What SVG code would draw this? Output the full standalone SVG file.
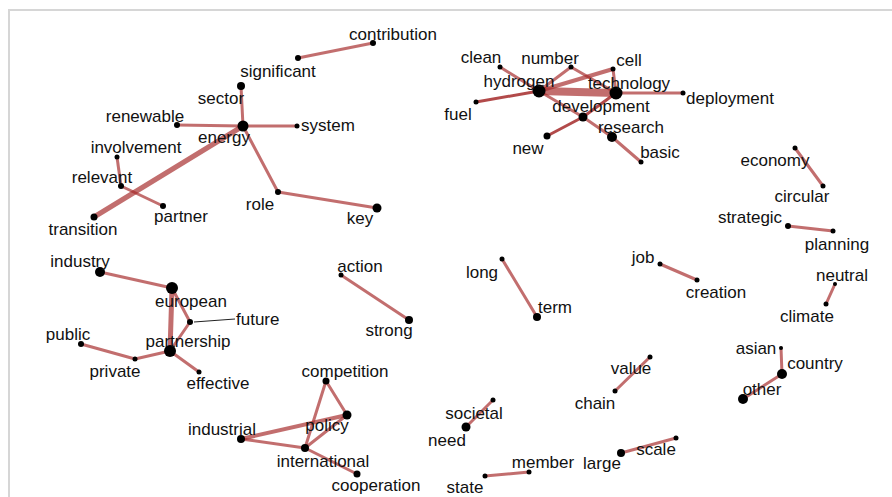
<svg xmlns="http://www.w3.org/2000/svg" width="892" height="497" viewBox="0 0 892 497">
<style>
.e{stroke:#a52a2a;stroke-opacity:0.68;stroke-linecap:round;fill:none;stroke-width:3}
.d{stroke-opacity:0.85}
.n{fill:#000}
text{font-family:"Liberation Sans",Arial,sans-serif;font-size:17px;fill:#111;text-anchor:middle}
.l{text-anchor:start}
</style>
<rect x="0" y="0" width="892" height="497" fill="#fff"/>
<rect x="9" y="10" width="895" height="500" fill="none" stroke="#d6d6d6" stroke-width="2"/>
<g id="connectors">
<line class="e" x1="373" y1="43" x2="298" y2="58"/>
<line class="e" x1="241" y1="86" x2="243" y2="126"/>
<line class="e" x1="177" y1="125" x2="243" y2="126"/>
<line class="e" x1="243" y1="126" x2="297" y2="126"/>
<line class="e" x1="243" y1="126" x2="94" y2="217" style="stroke-width:5"/>
<line class="e" x1="117" y1="157" x2="121" y2="186"/>
<line class="e" x1="121" y1="186" x2="163" y2="206"/>
<line class="e" x1="243" y1="126" x2="278" y2="192"/>
<line class="e" x1="278" y1="192" x2="377" y2="208"/>
<line class="e" x1="539" y1="91" x2="500" y2="67"/>
<line class="e" x1="539" y1="91" x2="571" y2="67"/>
<line class="e" x1="539" y1="91" x2="613" y2="69" style="stroke-width:4"/>
<line class="e d" x1="539" y1="91" x2="476" y2="102"/>
<line class="e" x1="539" y1="91" x2="616" y2="93" style="stroke-width:8"/>
<line class="e" x1="539" y1="91" x2="583" y2="117"/>
<line class="e" x1="583" y1="117" x2="612" y2="137"/>
<line class="e d" x1="583" y1="117" x2="547" y2="136"/>
<line class="e d" x1="583" y1="117" x2="616" y2="93"/>
<line class="e" x1="571" y1="67" x2="616" y2="93"/>
<line class="e" x1="613" y1="69" x2="616" y2="93"/>
<line class="e" x1="616" y1="93" x2="683" y2="93"/>
<line class="e" x1="612" y1="137" x2="641" y2="162"/>
<line class="e" x1="795" y1="148" x2="823" y2="186"/>
<line class="e" x1="788" y1="226" x2="833" y2="231"/>
<line class="e" x1="100" y1="272" x2="172" y2="288"/>
<line class="e" x1="172" y1="288" x2="170" y2="351" style="stroke-width:5"/>
<line class="e" x1="172" y1="288" x2="190" y2="322"/>
<line class="e" x1="190" y1="322" x2="170" y2="351"/>
<line class="e" x1="81" y1="344" x2="135" y2="359"/>
<line class="e" x1="135" y1="359" x2="170" y2="351"/>
<line class="e" x1="170" y1="351" x2="199" y2="372"/>
<line x1="194" y1="322" x2="235" y2="319" stroke="#222" stroke-width="1"/>
<line class="e" x1="341" y1="275" x2="409" y2="320"/>
<line class="e" x1="326" y1="381" x2="347" y2="415"/>
<line class="e" x1="326" y1="381" x2="305" y2="448"/>
<line class="e" x1="241" y1="439" x2="347" y2="415" style="stroke-width:4"/>
<line class="e" x1="241" y1="439" x2="305" y2="448"/>
<line class="e" x1="305" y1="448" x2="347" y2="415"/>
<line class="e" x1="305" y1="448" x2="357" y2="474"/>
<line class="e" x1="502" y1="259" x2="537" y2="317"/>
<line class="e" x1="660" y1="264" x2="697" y2="280"/>
<line class="e" x1="835" y1="284" x2="826" y2="304"/>
<line class="e" x1="781" y1="348" x2="782" y2="374"/>
<line class="e" x1="782" y1="374" x2="743" y2="399"/>
<line class="e" x1="650" y1="357" x2="615" y2="391"/>
<line class="e" x1="493" y1="400" x2="466" y2="427"/>
<line class="e" x1="529" y1="472" x2="485" y2="476"/>
<line class="e" x1="621" y1="453" x2="676" y2="438"/>
</g>
<g id="contribution"><circle class="n" cx="373" cy="43" r="3"/><text x="393" y="40">contribution</text></g>
<g id="significant"><circle class="n" cx="298" cy="58" r="3"/><text x="278" y="77">significant</text></g>
<g id="sector"><circle class="n" cx="241" cy="86" r="4"/><text x="221" y="104">sector</text></g>
<g id="energy"><circle class="n" cx="243" cy="126" r="5.5"/><text x="224" y="143">energy</text></g>
<g id="renewable"><circle class="n" cx="177" cy="125" r="3"/><text x="145" y="122">renewable</text></g>
<g id="system"><circle class="n" cx="297" cy="126" r="2.5"/><text x="328" y="131">system</text></g>
<g id="involvement"><circle class="n" cx="117" cy="157" r="2.5"/><text x="136" y="153">involvement</text></g>
<g id="relevant"><circle class="n" cx="121" cy="186" r="3"/><text x="102" y="183">relevant</text></g>
<g id="partner"><circle class="n" cx="163" cy="206" r="3"/><text x="181" y="222">partner</text></g>
<g id="transition"><circle class="n" cx="94" cy="217" r="3.5"/><text x="83" y="235">transition</text></g>
<g id="role"><circle class="n" cx="278" cy="192" r="3"/><text x="260" y="210">role</text></g>
<g id="key"><circle class="n" cx="377" cy="208" r="4.5"/><text x="360" y="224">key</text></g>
<g id="clean"><circle class="n" cx="500" cy="67" r="2.5"/><text x="481" y="63">clean</text></g>
<g id="number"><circle class="n" cx="571" cy="67" r="2.5"/><text x="550" y="64">number</text></g>
<g id="cell"><circle class="n" cx="613" cy="69" r="2.5"/><text x="629" y="66">cell</text></g>
<g id="hydrogen"><circle class="n" cx="539" cy="91" r="6.5"/><text x="519" y="87">hydrogen</text></g>
<g id="technology"><circle class="n" cx="616" cy="93" r="6.5"/><text x="629" y="89">technology</text></g>
<g id="deployment"><circle class="n" cx="683" cy="93" r="2.5"/><text x="730" y="104">deployment</text></g>
<g id="fuel"><circle class="n" cx="476" cy="102" r="2.5"/><text x="458" y="120">fuel</text></g>
<g id="development"><circle class="n" cx="583" cy="117" r="4.5"/><text x="601" y="112">development</text></g>
<g id="new"><circle class="n" cx="547" cy="136" r="3.5"/><text x="528" y="154">new</text></g>
<g id="research"><circle class="n" cx="612" cy="137" r="5"/><text x="631" y="133">research</text></g>
<g id="basic"><circle class="n" cx="641" cy="162" r="2.5"/><text x="660" y="158">basic</text></g>
<g id="economy"><circle class="n" cx="795" cy="148" r="2.5"/><text x="775" y="166">economy</text></g>
<g id="circular"><circle class="n" cx="823" cy="186" r="2.5"/><text x="802" y="202">circular</text></g>
<g id="strategic"><circle class="n" cx="788" cy="226" r="3"/><text x="750" y="223">strategic</text></g>
<g id="planning"><circle class="n" cx="833" cy="231" r="2.5"/><text x="837" y="250">planning</text></g>
<g id="industry"><circle class="n" cx="100" cy="272" r="5"/><text x="80" y="267">industry</text></g>
<g id="european"><circle class="n" cx="172" cy="288" r="6"/><text x="191" y="307">european</text></g>
<g id="future"><circle class="n" cx="190" cy="322" r="3"/><text class="l" x="236" y="325">future</text></g>
<g id="partnership"><circle class="n" cx="170" cy="351" r="6"/><text x="188" y="347">partnership</text></g>
<g id="public"><circle class="n" cx="81" cy="344" r="3"/><text x="68" y="340">public</text></g>
<g id="private"><circle class="n" cx="135" cy="359" r="2.5"/><text x="115" y="377">private</text></g>
<g id="effective"><circle class="n" cx="199" cy="372" r="2.5"/><text x="218" y="389">effective</text></g>
<g id="action"><circle class="n" cx="341" cy="275" r="2.5"/><text x="360" y="272">action</text></g>
<g id="strong"><circle class="n" cx="409" cy="320" r="4"/><text x="389" y="336">strong</text></g>
<g id="competition"><circle class="n" cx="326" cy="381" r="3.5"/><text x="345" y="377">competition</text></g>
<g id="policy"><circle class="n" cx="347" cy="415" r="4.5"/><text x="327" y="431">policy</text></g>
<g id="industrial"><circle class="n" cx="241" cy="439" r="4"/><text x="222" y="435">industrial</text></g>
<g id="international"><circle class="n" cx="305" cy="448" r="4"/><text x="323" y="467">international</text></g>
<g id="cooperation"><circle class="n" cx="357" cy="474" r="3.5"/><text x="376" y="491">cooperation</text></g>
<g id="long"><circle class="n" cx="502" cy="259" r="2.5"/><text x="482" y="278">long</text></g>
<g id="term"><circle class="n" cx="537" cy="317" r="4"/><text x="555" y="313">term</text></g>
<g id="job"><circle class="n" cx="660" cy="264" r="2.5"/><text x="643" y="263">job</text></g>
<g id="creation"><circle class="n" cx="697" cy="280" r="2.5"/><text x="716" y="298">creation</text></g>
<g id="neutral"><circle class="n" cx="835" cy="284" r="2"/><text x="842" y="281">neutral</text></g>
<g id="climate"><circle class="n" cx="826" cy="304" r="2.5"/><text x="807" y="322">climate</text></g>
<g id="asian"><circle class="n" cx="781" cy="348" r="2"/><text x="756" y="354">asian</text></g>
<g id="country"><circle class="n" cx="782" cy="374" r="5"/><text x="815" y="369">country</text></g>
<g id="other"><circle class="n" cx="743" cy="399" r="5"/><text x="762" y="395">other</text></g>
<g id="value"><circle class="n" cx="650" cy="357" r="2.5"/><text x="631" y="374">value</text></g>
<g id="chain"><circle class="n" cx="615" cy="391" r="2.5"/><text x="595" y="409">chain</text></g>
<g id="societal"><circle class="n" cx="493" cy="400" r="2.5"/><text x="474" y="419">societal</text></g>
<g id="need"><circle class="n" cx="466" cy="427" r="4.5"/><text x="447" y="446">need</text></g>
<g id="member"><circle class="n" cx="529" cy="472" r="2.5"/><text x="543" y="468">member</text></g>
<g id="state"><circle class="n" cx="485" cy="476" r="2.5"/><text x="465" y="493">state</text></g>
<g id="large"><circle class="n" cx="621" cy="453" r="4"/><text x="602" y="469">large</text></g>
<g id="scale"><circle class="n" cx="676" cy="438" r="2.5"/><text x="656" y="455">scale</text></g>
</svg>
